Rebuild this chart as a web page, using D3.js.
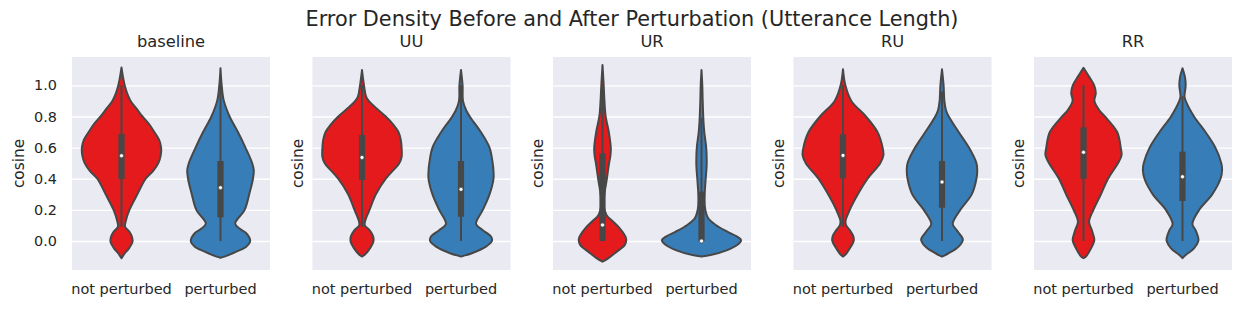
<!DOCTYPE html>
<html>
<head>
<meta charset="utf-8">
<script src="https://cdn.jsdelivr.net/npm/d3@7"></script>
<style>
  body { margin: 0; background: #fff; }
  text { font-family: "DejaVu Sans", sans-serif; fill: #262626; }
</style>
</head>
<body>
<div id="chart"></div>
<script>
// panels and categories
const panels = ["baseline", "UU", "UR", "RU", "RR"];
const categories = ["not perturbed", "perturbed"];
const yTicks = [0.0, 0.2, 0.4, 0.6, 0.8, 1.0];

// density profiles: [cosine, relative density]
const baselineNot = [[-0.111,0],[-0.08,0.08],[-0.05,0.18],[-0.026,0.24],[0.0,0.28],[0.03,0.26],[0.06,0.2],[0.092,0.09],[0.13,0.11],[0.2,0.2],[0.3,0.4],[0.4,0.61],[0.45,0.8],[0.5,0.93],[0.55,0.99],[0.6,1.0],[0.65,0.95],[0.7,0.83],[0.75,0.7],[0.8,0.53],[0.85,0.38],[0.9,0.23],[0.95,0.14],[1.0,0.08],[1.05,0.04],[1.115,0]];
const baselinePert = [[-0.107,0],[-0.1,0.1],[-0.068,0.4],[-0.036,0.65],[0.0,0.75],[0.05,0.65],[0.08,0.48],[0.113,0.37],[0.2,0.61],[0.306,0.73],[0.4,0.82],[0.456,0.84],[0.5,0.8],[0.6,0.63],[0.7,0.44],[0.8,0.23],[0.905,0.08],[1.0,0.03],[1.11,0]];
const uuNot = [[-0.1,0],[-0.09,0.06],[-0.047,0.2],[0.0,0.29],[0.03,0.28],[0.07,0.19],[0.1,0.07],[0.13,0.08],[0.2,0.19],[0.3,0.35],[0.4,0.6],[0.5,0.94],[0.54,1.0],[0.6,1.0],[0.65,0.98],[0.7,0.92],[0.745,0.8],[0.8,0.6],[0.86,0.33],[0.9,0.17],[0.93,0.1],[1.0,0.05],[1.098,0]];
const uuPert = [[-0.1,0],[-0.096,0.05],[-0.08,0.26],[-0.036,0.63],[0.0,0.78],[0.028,0.76],[0.07,0.55],[0.11,0.38],[0.2,0.55],[0.3,0.72],[0.4,0.82],[0.45,0.82],[0.5,0.8],[0.6,0.72],[0.7,0.5],[0.8,0.22],[0.84,0.13],[0.9,0.05],[1.0,0.04],[1.098,0]];
const urNot = [[-0.133,0],[-0.11,0.15],[-0.068,0.36],[-0.026,0.56],[0.006,0.6],[0.028,0.58],[0.08,0.44],[0.124,0.27],[0.167,0.1],[0.23,0.03],[0.295,0.045],[0.4,0.11],[0.49,0.16],[0.55,0.2],[0.595,0.21],[0.7,0.16],[0.8,0.08],[0.895,0.05],[1.0,0.03],[1.13,0]];
const urPert = [[-0.1,0],[-0.09,0.23],[-0.058,0.65],[-0.026,0.9],[0.006,1.0],[0.028,0.9],[0.06,0.65],[0.103,0.36],[0.146,0.17],[0.21,0.09],[0.295,0.08],[0.38,0.1],[0.49,0.13],[0.595,0.12],[0.7,0.07],[0.767,0.05],[0.9,0.03],[1.0,0.02],[1.098,0]];
const ruNot = [[-0.1,0],[-0.09,0.05],[-0.047,0.17],[0.0,0.27],[0.03,0.26],[0.07,0.17],[0.1,0.08],[0.13,0.065],[0.2,0.17],[0.3,0.375],[0.4,0.62],[0.5,0.94],[0.55,1.02],[0.6,1.0],[0.7,0.87],[0.8,0.58],[0.9,0.21],[1.0,0.06],[1.103,0]];
const ruPert = [[-0.1,0],[-0.09,0.08],[-0.047,0.37],[0.0,0.52],[0.017,0.52],[0.07,0.37],[0.11,0.27],[0.2,0.46],[0.3,0.75],[0.4,0.87],[0.456,0.89],[0.5,0.87],[0.6,0.68],[0.7,0.42],[0.8,0.17],[0.84,0.1],[0.9,0.06],[1.0,0.04],[1.103,0]];
const rrNot = [[-0.11,0],[-0.1,0.06],[-0.047,0.19],[0.0,0.27],[0.017,0.27],[0.07,0.21],[0.124,0.14],[0.2,0.25],[0.3,0.44],[0.4,0.62],[0.5,0.87],[0.55,0.96],[0.6,0.94],[0.7,0.85],[0.8,0.54],[0.84,0.4],[0.9,0.275],[0.95,0.31],[1.0,0.27],[1.056,0.14],[1.113,0]];
const rrPert = [[-0.11,0],[-0.09,0.08],[-0.047,0.29],[0.0,0.4],[0.017,0.4],[0.07,0.33],[0.11,0.25],[0.2,0.42],[0.3,0.75],[0.4,0.96],[0.456,1.0],[0.5,0.98],[0.6,0.83],[0.7,0.58],[0.8,0.29],[0.9,0.08],[0.927,0.05],[1.0,0.08],[1.056,0.06],[1.11,0]];

// box statistics per panel: [not perturbed, perturbed]
const whiskerLow  = [[0.092, 0.0], [0.092, 0.0], [0.0, 0.0], [0.092, 0.0], [0.0, 0.0]];
const q1          = [[0.398, 0.152], [0.392, 0.156], [0.0, 0.0], [0.403, 0.214], [0.40, 0.257]];
const median      = [[0.548, 0.343], [0.537, 0.332], [0.103, 0.0], [0.55, 0.379], [0.57, 0.413]];
const q3          = [[0.687, 0.514], [0.681, 0.514], [0.563, 0.317], [0.685, 0.514], [0.73, 0.574]];
const whiskerHigh = [[1.0, 1.0], [1.0, 1.0], [1.0, 0.79], [1.0, 0.96], [1.0, 0.93]];

const profiles = [
  [baselineNot, baselinePert],
  [uuNot, uuPert],
  [urNot, urPert],
  [ruNot, ruPert],
  [rrNot, rrPert]
];

const width = 1243, height = 309;
const margin = { top: 57, bottom: 39, left: 72 };
const panelW = 198, panelGap = 42.5;
const panelH = height - margin.top - margin.bottom;
const gray = "#474747";

const svg = d3.select("#chart").append("svg")
  .attr("width", width)
  .attr("height", height);

const px = d3.scaleBand()
  .domain(panels)
  .range([margin.left, margin.left + panels.length * panelW + (panels.length - 1) * panelGap])
  .paddingInner(panelGap / (panelW + panelGap));

const y = d3.scaleLinear().domain([-0.186, 1.182]).range([panelH, 0]);
const x = d3.scaleBand().domain(categories).range([0, panelW]);
const w = d3.scaleLinear().domain([0, 1]).range([0, x.bandwidth() * 0.4]);
const color = d3.scaleOrdinal().domain(categories).range(["#e41a1c", "#377eb8"]);

// suptitle
svg.append("text")
  .attr("x", 632)
  .attr("y", 26)
  .attr("text-anchor", "middle")
  .style("font-size", "20.8px")
  .text("Error Density Before and After Perturbation (Utterance Length)");

panels.forEach((name, i) => {
  let g = svg.append("g")
    .attr("transform", "translate(" + px(name) + "," + margin.top + ")");

  g.append("rect")
    .attr("width", panelW)
    .attr("height", panelH)
    .attr("fill", "#eaeaf2");

  // horizontal grid
  g.append("g")
    .call(d3.axisLeft(y).tickValues(yTicks).tickSize(-panelW).tickFormat(""))
    .call(s => s.select(".domain").remove())
    .call(s => s.selectAll("line").attr("stroke", "#fff").attr("stroke-width", 1.4));

  if (i === 0) {
    g.append("g")
      .call(d3.axisLeft(y).tickValues(yTicks).tickSize(0).tickPadding(15).tickFormat(d3.format(".1f")))
      .call(s => s.select(".domain").remove())
      .call(s => s.selectAll("text").style("font-size", "14.4px").attr("fill", "#262626")
        .style("font-family", "DejaVu Sans"));
  }

  // x tick labels
  g.append("g")
    .attr("transform", "translate(0," + panelH + ")")
    .call(d3.axisBottom(x).tickSize(0).tickPadding(0))
    .call(s => s.select(".domain").remove())
    .call(s => s.selectAll("text").attr("dy", null).attr("y", 24)
      .style("font-size", "14.5px").attr("fill", "#262626").style("font-family", "DejaVu Sans"));

  // panel title
  g.append("text")
    .attr("x", panelW / 2)
    .attr("y", 46.7 - margin.top)
    .attr("text-anchor", "middle")
    .style("font-size", "16.3px")
    .text(name);

  // y label
  g.append("text")
    .attr("transform", "translate(" + (i === 0 ? -48 : -10) + "," + (panelH / 2) + ") rotate(-90)")
    .attr("text-anchor", "middle")
    .style("font-size", "15.3px")
    .text("cosine");

  categories.forEach((cat, j) => {
    let cx = x(cat) + x.bandwidth() / 2;

    let area = d3.area()
      .curve(d3.curveCatmullRom)
      .y(d => y(d[0]))
      .x0(d => cx - w(d[1]))
      .x1(d => cx + w(d[1]));

    g.append("path")
      .datum(profiles[i][j])
      .attr("d", area)
      .attr("fill", color(cat))
      .attr("stroke", gray)
      .attr("stroke-width", 2)
      .attr("stroke-linejoin", "round");

    // whisker
    g.append("line")
      .attr("x1", cx).attr("x2", cx)
      .attr("y1", y(whiskerLow[i][j])).attr("y2", y(whiskerHigh[i][j]))
      .attr("stroke", gray)
      .attr("stroke-width", 2);

    // box
    g.append("line")
      .attr("x1", cx).attr("x2", cx)
      .attr("y1", y(q1[i][j])).attr("y2", y(q3[i][j]))
      .attr("stroke", gray)
      .attr("stroke-width", 6.2);

    // median
    g.append("circle")
      .attr("cx", cx)
      .attr("cy", y(median[i][j]))
      .attr("r", 2)
      .attr("fill", "#fff")
      .attr("stroke", gray)
      .attr("stroke-width", 0.6);
  });
});
</script>
</body>
</html>
